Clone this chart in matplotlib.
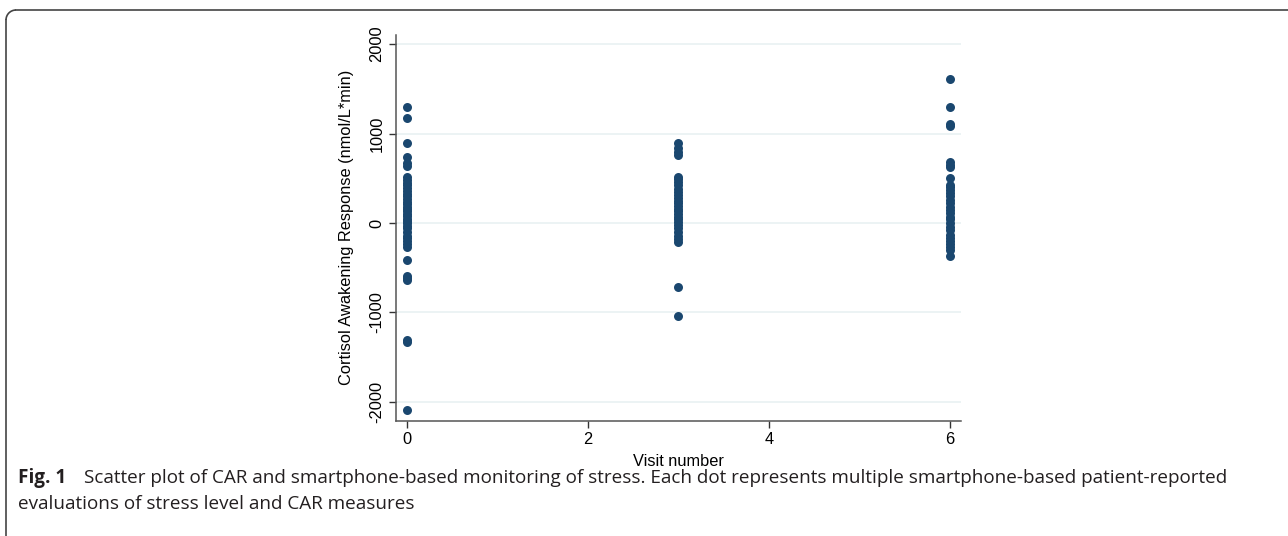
import matplotlib
matplotlib.use("Agg")
import matplotlib.pyplot as plt
from matplotlib.patches import Arc
from matplotlib.lines import Line2D

# visit 0, 3, 6 -> CAR values
visit0 = [1300, 1170, 900, 740, 670, 640, 520, 480, 450, 420, 390, 360, 330,
          300, 270, 240, 210, 180, 160, 130, 100, 80, 50, 20, 0, -30, -60,
          -100, -140, -170, -200, -240, -270, -415, -590, -620, -640,
          -1305, -1325, -2095]
visit3 = [890, 840, 790, 760, 520, 490, 460, 420, 380, 350, 310, 280, 250,
          220, 190, 160, 130, 100, 70, 40, 10, -20, -60, -100, -140, -180,
          -210, -713, -1042]
visit6 = [1610, 1295, 1110, 1090, 680, 650, 630, 500, 430, 400, 370, 340,
          300, 260, 220, 180, 150, 110, 70, 40, 0, -40, -80, -130, -170,
          -200, -240, -270, -300, -370]
visits = [0, 3, 6]
xticks = [0, 2, 4, 6]
yticks = [-2000, -1000, 0, 1000, 2000]

W, H = 1288, 536
fig = plt.figure(figsize=(W / 100, H / 100), dpi=100)

# axes box in pixels: left 395.7, right 960.7, top 35, bottom 420.7
ax = fig.add_axes([395.7 / W, 1 - 420.7 / H, (960.7 - 395.7) / W, (420.7 - 35) / H])

navy = '#1a476f'
for v, vals in zip(visits, [visit0, visit3, visit6]):
    ax.scatter([v] * len(vals), vals, s=42, color=navy, linewidths=0, zorder=3)

ax.set_xlim(-0.121, 6.118)
ax.set_ylim(-2210, 2102)
ax.set_xticks(xticks)
ax.set_yticks(yticks)
ax.set_yticklabels([str(t) for t in yticks], rotation=90, va='center')

for s in ['top', 'right']:
    ax.spines[s].set_visible(False)
for s in ['left', 'bottom']:
    ax.spines[s].set_color('#555555')
    ax.spines[s].set_linewidth(1.1)

ax.grid(axis='y', color='#eaf2f3', linewidth=1.3, zorder=0)
ax.set_axisbelow(True)
ax.tick_params(length=5, width=1, color='#333333', labelsize=11.8,
               labelcolor='black', pad=3)
for lab in ax.get_xticklabels() + ax.get_yticklabels():
    lab.set_family('Liberation Sans')

ax.set_xlabel('Visit number', family='Liberation Sans', fontsize=11.8, labelpad=5)
ax.set_ylabel('Cortisol Awakening Response (nmol/L*min)', family='Liberation Sans',
              fontsize=11.8, labelpad=11)

# caption
cap = '#231f20'
fig.text(18 / W, 1 - 478 / H, 'Fig. 1', fontsize=13.6, fontweight='bold',
         family='Open Sans', color=cap, va='center')
fig.text(84 / W, 1 - 478 / H,
         'Scatter plot of CAR and smartphone-based monitoring of stress. Each dot '
         'represents multiple smartphone-based patient-reported',
         fontsize=13.6, family='Open Sans', color=cap, va='center')
fig.text(18 / W, 1 - 504 / H, 'evaluations of stress level and CAR measures',
         fontsize=13.6, family='Open Sans', color=cap, va='center')

# frame around the figure: top and left edges with a rounded corner
r = 10
frame = '#444444'
fig.add_artist(Line2D([(6 + r) / W, 1], [1 - 10 / H, 1 - 10 / H],
                      transform=fig.transFigure, color=frame, lw=1.2))
fig.add_artist(Line2D([6 / W, 6 / W], [1 - (10 + r) / H, 0],
                      transform=fig.transFigure, color=frame, lw=1.2))
arc = Arc(((6 + r), H - (10 + r)), 2 * r, 2 * r, theta1=90, theta2=180,
          transform=None, color=frame, lw=1.2)
fig.add_artist(arc)

fig.savefig('out.png', dpi=100)
